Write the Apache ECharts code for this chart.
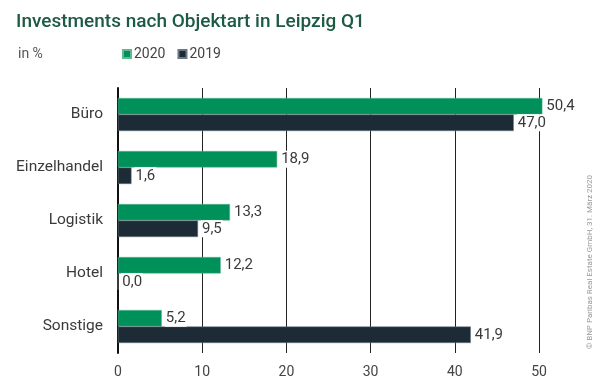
<!DOCTYPE html>
<html><head><meta charset="utf-8">
<script src="https://cdn.jsdelivr.net/npm/echarts@6/dist/echarts.min.js"></script>
<style>html,body{margin:0;padding:0;background:#fff}#c{width:600px;height:386px}</style>
</head><body><div id="c"></div>
<script>
const categories = ['Büro', 'Einzelhandel', 'Logistik', 'Hotel', 'Sonstige'];
const values2020 = [50.4, 18.9, 13.3, 12.2, 5.2];
const values2019 = [47.0, 1.6, 9.5, 0.0, 41.9];
const xTicks = [0, 10, 20, 30, 40, 50];

const fmt = v => v.toFixed(1).replace('.', ',');
const font = 'Roboto, "Noto Sans", sans-serif';
const lbl = {
  show: true, position: 'right', distance: 3,
  formatter: p => fmt(p.value), color: '#3a3a3a', fontSize: 15, fontFamily: font,
  backgroundColor: '#fff', padding: [1, 1]
};
const chart = echarts.init(document.getElementById('c'));
chart.setOption({
  animation: false,
  title: [{
    text: 'Investments nach Objektart in Leipzig Q1', left: 11, top: 8,
    textStyle: { color: '#1d5a43', fontSize: 19, fontWeight: 500, fontFamily: font }
  }, {
    text: 'in %', left: 13, top: 42,
    textStyle: { color: '#555', fontSize: 14, fontWeight: 'normal', fontFamily: font }
  }],
  graphic: [{
    type: 'text', x: 590, y: 262, rotation: Math.PI / 2,
    style: {
      text: '© BNP Paribas Real Estate GmbH, 31. März 2020',
      fill: '#999', fontSize: 8, fontFamily: font, align: 'center', verticalAlign: 'middle'
    }
  }],
  legend: {
    left: 117, top: 42, itemWidth: 8, itemHeight: 8, itemGap: 12, icon: 'rect',
    textStyle: { color: '#444', fontSize: 14, fontFamily: font, padding: [0, 0, 0, -2] },
    data: ['2020', '2019']
  },
  grid: { left: 118, right: 61, top: 88, bottom: 33 },
  xAxis: {
    type: 'value', min: 0, max: 50, interval: 10,
    axisLine: { show: false }, axisTick: { show: false },
    splitLine: { lineStyle: { color: '#222', width: 1 } },
    axisLabel: { color: '#444', fontSize: 14, fontFamily: font, margin: 12,
      formatter: v => xTicks.includes(v) ? String(v) : '' }
  },
  yAxis: {
    type: 'category', data: categories, inverse: true,
    axisLine: { show: true, lineStyle: { color: '#111', width: 2 } },
    axisTick: { show: false },
    axisLabel: { color: '#3a3a3a', fontSize: 15.5, fontFamily: font, margin: 15 }
  },
  series: [{
    name: '2020', type: 'bar', data: values2020, barWidth: 16.5, barGap: '0%', clip: false,
    itemStyle: { color: '#00905a', borderColor: '#5fb992', borderWidth: 0.5 }, label: lbl, z: 3
  }, {
    name: '2019', type: 'bar', data: values2019, barWidth: 16.5, barGap: '0%', clip: false,
    itemStyle: { color: '#1c2b36', borderColor: '#6b7880', borderWidth: 0.5 }, label: lbl, z: 3
  }]
});
</script>
</body></html>
